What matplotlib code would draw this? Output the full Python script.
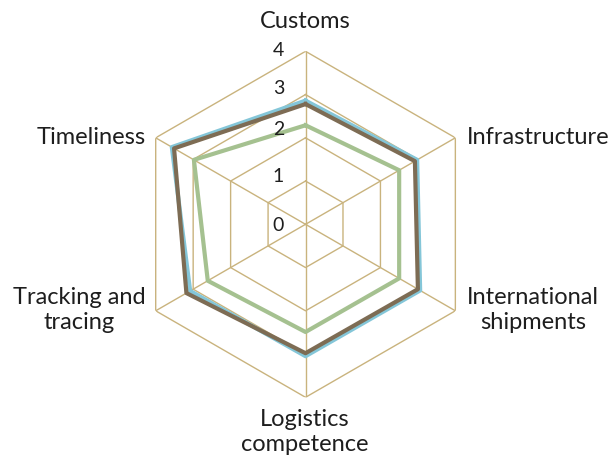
import numpy as np
import matplotlib
matplotlib.use('Agg')
import matplotlib.pyplot as plt

plt.rcParams['font.family'] = ['Lato', 'DejaVu Sans']

categories = ['Customs', 'Infrastructure', 'International\nshipments',
              'Logistics\ncompetence', 'Tracking and\ntracing', 'Timeliness']
series_blue = [2.86, 2.98, 3.06, 3.05, 3.08, 3.57]
series_brown = [2.78, 2.92, 3.00, 2.98, 3.18, 3.51]
series_green = [2.29, 2.50, 2.50, 2.49, 2.61, 2.98]
levels = [0, 1, 2, 3, 4]

grid_col = '#c9b37d'
n = len(categories)
angles = np.linspace(0, 2 * np.pi, n, endpoint=False)
closed = np.concatenate([angles, angles[:1]])

fig = plt.figure(figsize=(6.11, 4.58), dpi=100)
ax = fig.add_axes([0.2169, 0.1325, 0.5663, 0.7555], projection='polar')
ax.set_theta_offset(np.pi / 2)
ax.set_theta_direction(-1)
ax.set_ylim(0, 4)
ax.grid(False)
ax.spines['polar'].set_visible(False)
ax.set_xticks([])
ax.set_yticks([])

# hexagon grid
for lv in levels[1:]:
    ax.plot(closed, [lv] * (n + 1), color=grid_col, lw=1.0, zorder=1)
for a in angles:
    ax.plot([a, a], [0, 4], color=grid_col, lw=1.0, zorder=1)

def close(v):
    return list(v) + [v[0]]

ax.plot(closed, close(series_blue), color='#84c6d8', lw=3, zorder=3)
ax.plot(closed, close(series_brown), color='#7d6c54', lw=3, zorder=4)
ax.plot(closed, close(series_green), color='#a5c190', lw=3, zorder=3)

# radial tick labels, a bit left of the top spoke
nudge = [-1, 5, 8, 6, 1]
for lv, dy in zip(levels, nudge):
    x, y = ax.transData.transform((0, lv))
    fx, fy = fig.transFigure.inverted().transform((x - 27, y + dy))
    fig.text(fx, fy, str(lv), fontsize=14, color='#1e1e1e', ha='center',
             va='center')

# category labels
label_pos = [(305, 22, 'center'), (467, 137, 'left'), (533, 310, 'center'),
             (305, 432, 'center'), (79, 310, 'center'), (146, 137, 'right')]
for (px, py, ha), lab in zip(label_pos, categories):
    fig.text(px / 611, 1 - py / 458, lab, fontsize=17, color='#1e1e1e',
             ha=ha, va='center', linespacing=1.2)

fig.savefig('out.png', dpi=100)
